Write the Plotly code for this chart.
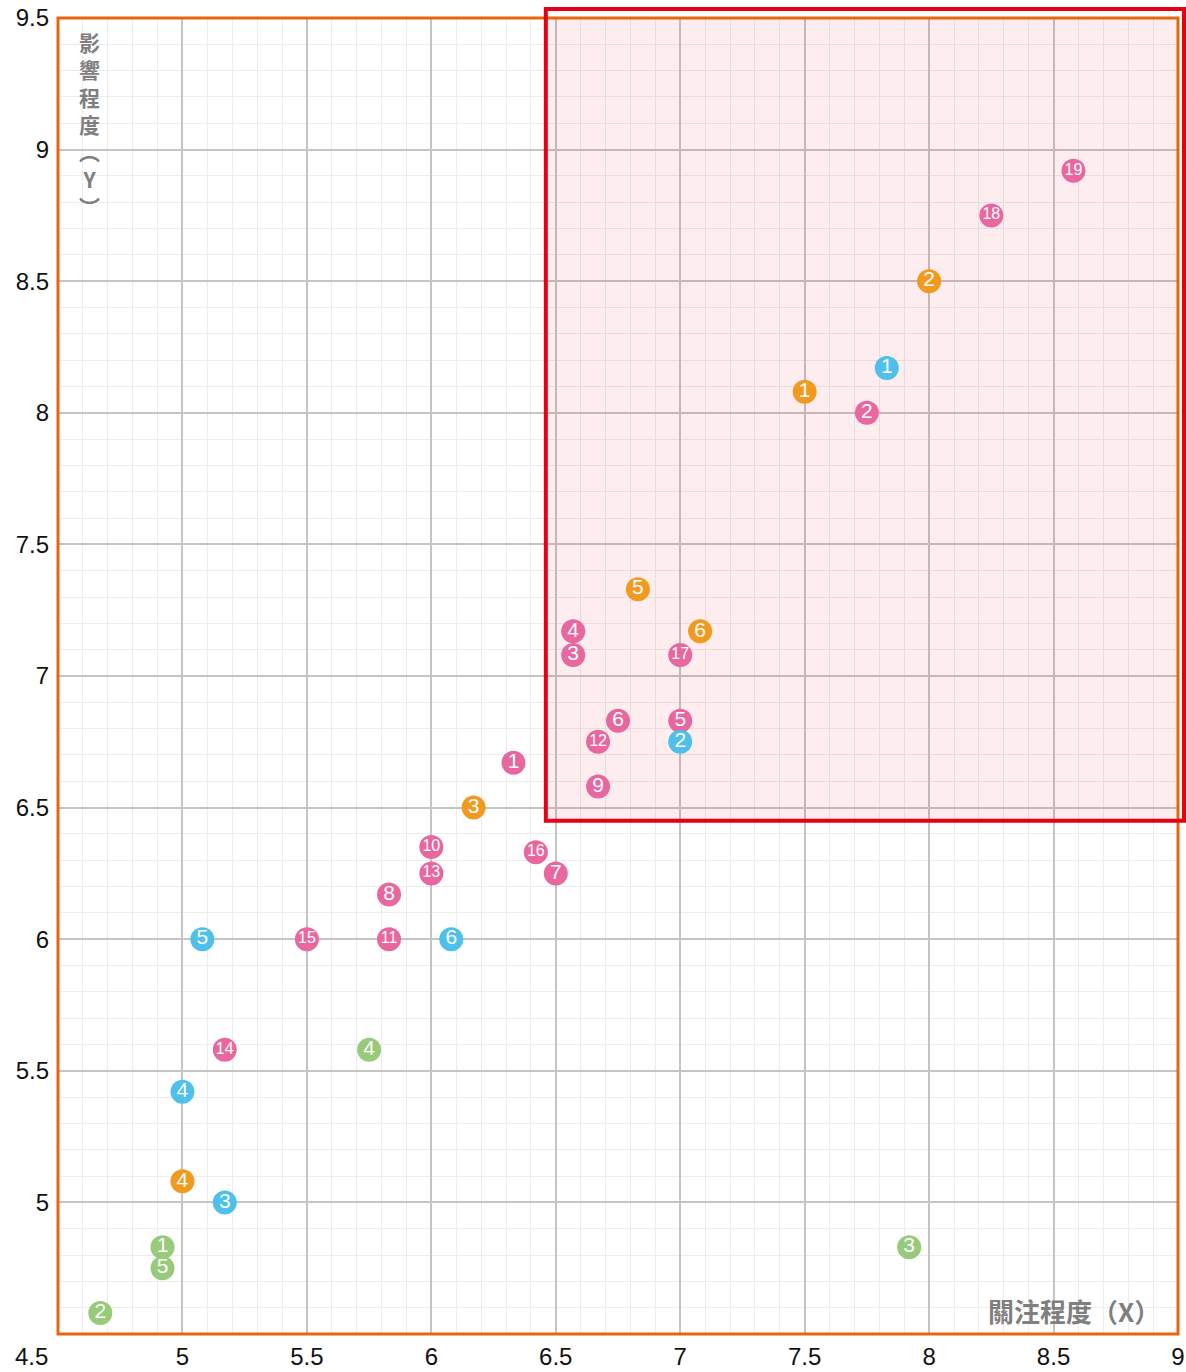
import plotly.graph_objects as go

# ---- data ----
pink_labels = [str(i) for i in range(1, 20)]
pink_x = [6.33, 7.75, 6.57, 6.57, 7.0, 6.75, 6.5, 5.83, 6.67, 6.0, 5.83, 6.67, 6.0, 5.17, 5.5, 6.42, 7.0, 8.25, 8.58]
pink_y = [6.67, 8.0, 7.08, 7.17, 6.83, 6.83, 6.25, 6.17, 6.58, 6.35, 6.0, 6.75, 6.25, 5.58, 6.0, 6.33, 7.08, 8.75, 8.92]

orange_labels = [str(i) for i in range(1, 7)]
orange_x = [7.5, 8.0, 6.17, 5.0, 6.83, 7.08]
orange_y = [8.08, 8.5, 6.5, 5.08, 7.33, 7.17]

blue_labels = [str(i) for i in range(1, 7)]
blue_x = [7.83, 7.0, 5.17, 5.0, 5.08, 6.08]
blue_y = [8.17, 6.75, 5.0, 5.42, 6.0, 6.0]

green_labels = [str(i) for i in range(1, 6)]
green_x = [4.92, 4.67, 7.92, 5.75, 4.92]
green_y = [4.83, 4.58, 4.83, 5.58, 4.75]

x_ticks = [5, 5.5, 6, 6.5, 7, 7.5, 8, 8.5, 9]
y_ticks = [5, 5.5, 6, 6.5, 7, 7.5, 8, 8.5, 9, 9.5]
x_range = [4.5, 9]
y_range = [4.5, 9.5]
focus_x0, focus_y0 = 6.46, 6.45

x_title = "關注程度（X）"
y_title_chars = ["影", "響", "程", "度", "︵", "Y", "︶"]

series = [
    (pink_labels, pink_x, pink_y, "#e8679f"),
    (orange_labels, orange_x, orange_y, "#f29a20"),
    (blue_labels, blue_x, blue_y, "#4fc0ec"),
    (green_labels, green_x, green_y, "#98ca7b"),
]

fig = go.Figure()
for labels, xs, ys, color in series:
    sizes = [21 if len(s) == 1 else 16 for s in labels]
    fig.add_trace(go.Scatter(
        x=xs, y=ys, mode="markers+text", text=labels,
        textposition="middle center",
        marker=dict(size=24, color=color, line=dict(width=0)),
        textfont=dict(color="white", size=sizes, family="Liberation Sans, Arial"),
        hoverinfo="x+y", showlegend=False, cliponaxis=False,
    ))

W, H = 1186, 1372
ml, mr, mt, mb = 58, 8, 18, 38
pw, ph = W - ml - mr, H - mt - mb

# focus region fill (between grid and traces)
fig.add_shape(type="rect", xref="x", yref="y", x0=focus_x0, x1=x_range[1], y0=focus_y0, y1=y_range[1],
              fillcolor="rgba(230,0,18,0.07)", line=dict(width=0), layer="between")
# orange frame
fig.add_shape(type="rect", xref="paper", yref="paper", x0=0, x1=1, y0=0, y1=1,
              line=dict(color="#e8650c", width=3), layer="above")
# red focus outline (extends slightly beyond the plot)
fx0 = (focus_x0 - x_range[0]) / (x_range[1] - x_range[0])
fy0 = (focus_y0 - y_range[0]) / (y_range[1] - y_range[0])
fig.add_shape(type="rect", xref="paper", yref="paper", x0=fx0, x1=1 + 6 / pw, y0=fy0, y1=1 + 9 / ph,
              line=dict(color="#e60012", width=4), layer="above")

tickfont = dict(family="Liberation Sans, Arial", size=24, color="#111")
fig.update_xaxes(range=x_range, tickvals=x_ticks, ticktext=[f"{v:g}" for v in x_ticks],
                 showgrid=True, gridcolor="#c4c4c4", gridwidth=1.5, zeroline=False,
                 minor=dict(dtick=0.1, showgrid=True, gridcolor="#ececec", gridwidth=1),
                 tickfont=tickfont, ticks="", showline=False, fixedrange=True, ticklabelstandoff=6,
                 automargin=False)
fig.update_yaxes(range=y_range, tickvals=y_ticks, ticktext=[f"{v:g}" for v in y_ticks],
                 showgrid=True, gridcolor="#c4c4c4", gridwidth=1.5, zeroline=False,
                 minor=dict(dtick=0.1, showgrid=True, gridcolor="#ececec", gridwidth=1),
                 tickfont=tickfont, ticks="", showline=False, fixedrange=True, ticklabelstandoff=8,
                 automargin=False)

# corner label 4.5
fig.add_annotation(xref="paper", yref="paper", x=(31 - ml) / pw, y=(1334 - 1356) / ph, text="4.5", showarrow=False,
                   font=tickfont, xanchor="center", yanchor="middle")

title_font = dict(family="Noto Sans CJK TC", size=26, color="#7f7f7f", weight="bold")
fig.add_annotation(xref="paper", yref="paper", x=(1162 - ml) / pw, y=(1334 - 1310) / ph, text=x_title,
                   showarrow=False, font=title_font, xanchor="right", yanchor="middle")
# vertical y title, one character per line
fig.add_annotation(xref="paper", yref="paper", x=(89 - ml) / pw, y=1 - (124 - mt) / ph,
                   text="<br>".join(y_title_chars), showarrow=False,
                   font=dict(family="Noto Sans CJK TC", size=21, color="#7f7f7f", weight="bold"),
                   xanchor="center", yanchor="middle", align="center")

fig.update_layout(width=W, height=H, margin=dict(l=ml, r=mr, t=mt, b=mb, autoexpand=False),
                  plot_bgcolor="white", paper_bgcolor="white")
fig.write_html("out.html", config={"displayModeBar": False},
               post_script="document.body.style.margin='0';document.body.style.overflow='hidden';")
